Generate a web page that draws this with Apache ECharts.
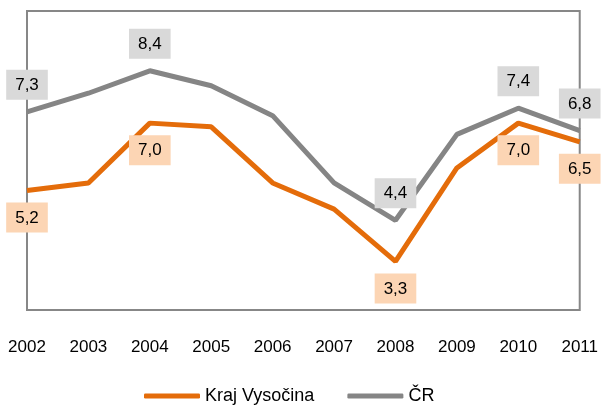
<!DOCTYPE html>
<html>
<head>
    <meta charset="UTF-8">
    <title></title>
    <script src="https://cdn.jsdelivr.net/npm/echarts@6/dist/echarts.min.js"></script>
    <style>
        html, body { margin: 0; padding: 0; background: #fff; }
        #container { width: 601px; height: 405px; }
    </style>
</head>
<body>
    <div id="container"></div>
    <script type="text/javascript">
        var years = ['2002', '2003', '2004', '2005', '2006', '2007', '2008', '2009', '2010', '2011'];
        var vysocina = [5.2, 5.4, 7.0, 6.9, 5.4, 4.7, 3.3, 5.8, 7.0, 6.5];
        var cr = [7.3, 7.8, 8.4, 8.0, 7.2, 5.4, 4.4, 6.7, 7.4, 6.8];
        // which points carry a value label
        var vysocinaLabeled = [0, 2, 6, 8, 9];
        var crLabeled = [0, 2, 6, 8, 9];

        function withLabels(values, labeled, pos, bg) {
            return values.map(function (v, i) {
                return {
                    value: v,
                    label: {
                        show: labeled.indexOf(i) >= 0,
                        position: pos,
                        distance: 12,
                        backgroundColor: bg,
                        padding: [7, 9, 6, 9],
                        color: '#000',
                        fontSize: 17,
                        fontFamily: 'Liberation Sans',
                        formatter: function (p) { return p.value.toFixed(1).replace('.', ','); }
                    }
                };
            });
        }

        var myChart = echarts.init(document.getElementById('container'));
        var option = {
            animation: false,
            textStyle: { fontFamily: 'Liberation Sans' },
            grid: {
                left: 27, right: 21, top: 11, bottom: 95,
                show: true, borderColor: '#878787', borderWidth: 2
            },
            legend: {
                bottom: 0,
                left: 144,
                padding: 0,
                icon: 'roundRect',
                itemWidth: 56,
                itemHeight: 5,
                itemGap: 33,
                textStyle: { color: '#000', fontSize: 18, fontFamily: 'Liberation Sans' },
                data: ['Kraj Vysočina', 'ČR']
            },
            xAxis: {
                type: 'category',
                boundaryGap: false,
                data: years,
                axisLine: { show: false },
                axisTick: { show: false },
                axisLabel: { color: '#000', fontSize: 17, margin: 29 }
            },
            yAxis: {
                type: 'value',
                min: 2,
                max: 10,
                show: false,
                splitLine: { show: false }
            },
            series: [
                {
                    name: 'Kraj Vysočina',
                    type: 'line',
                    symbol: 'circle',
                    symbolSize: 0.1,
                    showSymbol: true,
                    z: 3,
                    color: '#e46c0a',
                    lineStyle: { width: 5, color: '#e46c0a' },
                    data: withLabels(vysocina, vysocinaLabeled, 'bottom', '#fcd5b4')
                },
                {
                    name: 'ČR',
                    type: 'line',
                    symbol: 'circle',
                    symbolSize: 0.1,
                    showSymbol: true,
                    z: 2,
                    color: '#858585',
                    lineStyle: { width: 5, color: '#858585' },
                    data: withLabels(cr, crLabeled, 'top', '#d9d9d9')
                }
            ]
        };
        myChart.setOption(option);
    </script>
</body>
</html>
